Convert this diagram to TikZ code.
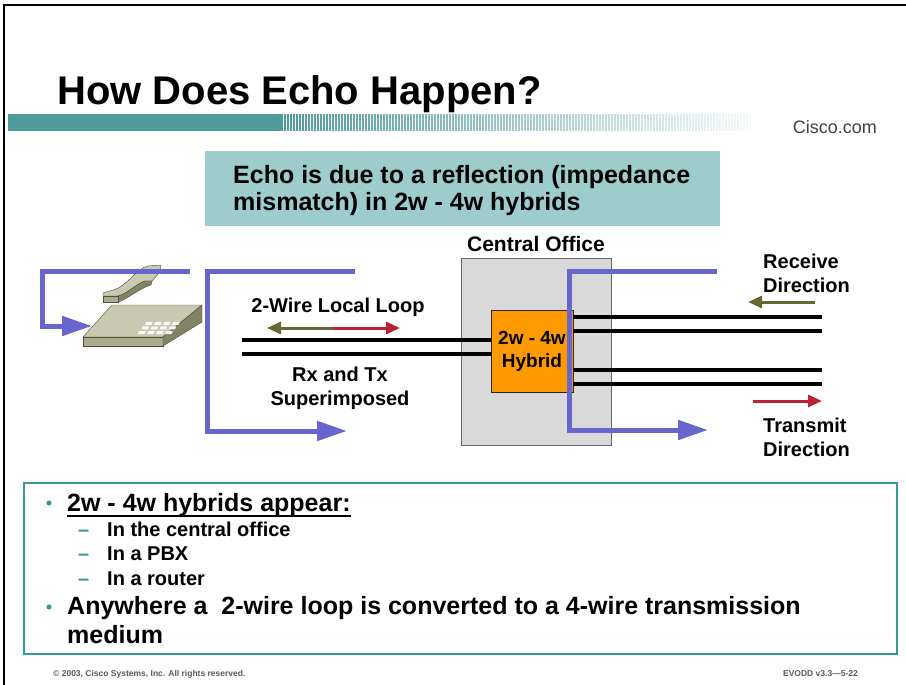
\documentclass[tikz,border=0pt]{standalone}
\usepackage{fontspec}
\setmainfont{Liberation Sans}
\usetikzlibrary{arrows.meta}

\definecolor{bandteal}{HTML}{4F9A9B}
\definecolor{boxteal}{HTML}{9CCCCC}
\definecolor{echoblue}{HTML}{6666CC}
\definecolor{cofill}{HTML}{D9D9D9}
\definecolor{coedge}{HTML}{666666}
\definecolor{hyorange}{HTML}{FF9900}
\definecolor{rxolive}{HTML}{666633}
\definecolor{txred}{HTML}{BB2233}
\definecolor{boxedge}{HTML}{339999}
\definecolor{phonelight}{HTML}{C9C9B1}
\definecolor{phonemid}{HTML}{ABAB8E}
\definecolor{phonedark}{HTML}{838366}
\definecolor{phoneline}{HTML}{4D4D3A}

\begin{document}
\begin{tikzpicture}[x=1pt,y=-1pt]
    \tikzstyle{wire} = [line width=3.2pt]
    \tikzstyle{echo} = [draw=echoblue, line width=5pt, -{Triangle[length=30pt,width=19pt]}]
    \tikzstyle{dirarrow} = [line width=3pt, -{Triangle[length=14pt,width=12pt]}]
    \tikzstyle{lbl} = [inner sep=0pt, align=center, font=\fontsize{20}{24}\selectfont\bfseries]
    \tikzstyle{txt} = [inner sep=0pt, anchor=base west, font=\fontsize{20}{24}\selectfont\bfseries]
    \useasboundingbox (0,0) rectangle (906,685);

    % page frame and heading
    \draw[line width=2pt] (4,685) -- (4,5) -- (906,5);
    \node[txt, font=\fontsize{40}{48}\selectfont\bfseries] (title) at (57,105) {How Does Echo Happen?};
    \fill[bandteal] (8,114) rectangle (283,131);
    \foreach \i [evaluate=\i as \op using 1-\i/165] in {0,...,155}
        \draw[bandteal, line width=1.4pt, opacity=\op] ({285+3*\i},114) -- ({285+3*\i},131);
    \node[inner sep=0pt, anchor=base east, text=black!75, font=\fontsize{18}{20}\selectfont] (site) at (877,133) {Cisco.com};

    % banner
    \fill[boxteal] (205,151) rectangle (720,226);
    \node[txt, align=left, font=\fontsize{25}{27}\selectfont\bfseries] (banner) at (233,210)
        {Echo is due to a reflection (impedance\\mismatch) in 2w - 4w hybrids};

    % central office with the hybrid
    \node[lbl, anchor=base, font=\fontsize{21}{24}\selectfont\bfseries] (colbl) at (536,251) {Central Office};
    \draw[coedge, fill=cofill] (461,258) rectangle (611,445);
    \node[draw=black!85, fill=hyorange, minimum width=82pt, minimum height=82pt, inner sep=0pt,
          align=center, font=\fontsize{19}{23}\selectfont\bfseries] (hybrid) at (532,351) {2w - 4w\\Hybrid};

    % 2-wire side
    \coordinate (loopend) at (242,340);
    \draw[wire] (loopend) -- (hybrid.west |- loopend);
    \draw[wire] ([yshift=-14pt]loopend) -- (hybrid.west |- 0,354);
    % 4-wire side
    \foreach \y in {317,331,370,384}
        \draw[wire] (hybrid.east |- 0,\y) -- (822,\y);

    % telephone set
    \fill[phonelight, draw=phoneline] (83,337) -- (112,305) -- (202,305) -- (163,337) -- cycle;
    \fill[phonemid, draw=phoneline] (83,337) -- (163,337) -- (163,346) -- (83,346) -- cycle;
    \fill[phonedark, draw=phoneline] (163,337) -- (202,305) -- (202,322) -- (163,346) -- cycle;
    \foreach \r in {0,1,2}
        \foreach \c in {0,1,2,3}
            \fill[white!85!phonelight] ({138+9*\c+3.5*\r},{334-4.6*\r}) -- ++(6.5,0) -- ++(1.3,-3) -- ++(-6.5,0) -- cycle;
    % handset: top face, then the darker underside of the arm
    \fill[phonelight, draw=phoneline] (103,293) -- (113,290) .. controls (127,287) and (136,268) .. (148,266)
        -- (161,265) -- (160,272) -- (152,281) -- (145,281) .. controls (136,284) and (127,294) .. (118,296)
        -- (103,296) -- cycle;
    \fill[phonedark, draw=phoneline] (118,296) .. controls (127,294) and (136,284) .. (145,281) -- (152,281)
        -- (151,285) .. controls (138,289) and (128,299) .. (118,302) -- cycle;
    \fill[phonemid, draw=phoneline] (103,296) -- (118,296) -- (118,302) -- (103,302) -- cycle;

    % echo paths
    \draw[echo] (190,271) -- (42,271) -- (42,326) -- (92,326);
    \draw[echo] (355,271) -- (207,271) -- (207,431) -- (347,431);
    \draw[echo] (717,271) -- (569,271) -- (569,430) -- (708,430);

    % loop labels
    \node[lbl, anchor=base] (looplbl) at (338,312) {2-Wire Local Loop};
    \coordinate (loopmid) at (333,328);
    \draw[dirarrow, rxolive] (loopmid) -- (267,328);
    \draw[dirarrow, txred] (loopmid) -- (400,328);
    \node[lbl] (rxtx) at (340,388) {Rx and Tx\\Superimposed};

    % 4-wire directions
    \node[lbl, anchor=west, align=left] (rxlbl) at (763,273) {Receive\\Direction};
    \draw[dirarrow, rxolive] (815,302) -- (748,302);
    \draw[dirarrow, txred] (753,401) -- (822,401);
    \node[lbl, anchor=west, align=left] (txlbl) at (763,437) {Transmit\\Direction};

    % notes
    \draw[boxedge, line width=2.5pt] (24,483) rectangle (897,654);
    \fill[boxedge] (49,503) circle (2.6);
    \node[txt, font=\fontsize{25}{28}\selectfont\bfseries] (appear) at (67,511) {2w - 4w hybrids appear:};
    \draw[line width=1.6pt] ([yshift=-5pt]appear.base west) -- ([yshift=-5pt]appear.base east);
    \foreach \t [count=\k from 0] in {In the central office, In a PBX, In a router} {
        \node[txt, text=boxedge] (dash\k) at (78,{536+24.5*\k}) {--};
        \node[txt] (item\k) at (107,{536+24.5*\k}) {\t};
    }
    \fill[boxedge] (49,607) circle (2.6);
    \node[txt, align=left, font=\fontsize{25}{28.5}\selectfont\bfseries] (anywhere) at (67,643)
        {Anywhere a\ \ 2-wire loop is converted to a 4-wire transmission\\medium};

    % footer
    \node[inner sep=0pt, anchor=base west, text=black!65, font=\fontsize{8.5}{10}\selectfont\bfseries] (copy) at (53,676)
        {\textcopyright\ 2003, Cisco Systems, Inc. All rights reserved.};
    \node[inner sep=0pt, anchor=base east, text=black!65, font=\fontsize{8.5}{10}\selectfont\bfseries] (course) at (858,676)
        {EVODD v3.3---5-22};
\end{tikzpicture}
\end{document}
